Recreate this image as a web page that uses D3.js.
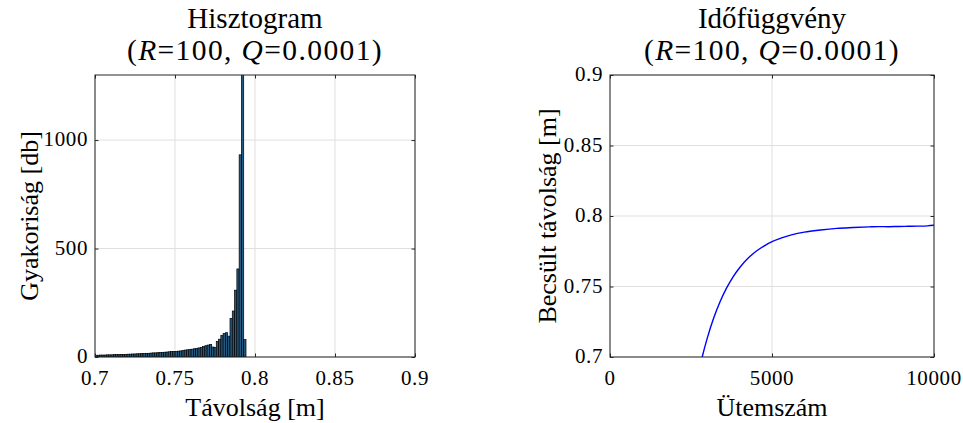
<!DOCTYPE html>
<html>
<head>
<meta charset="utf-8">
<script src="https://cdn.jsdelivr.net/npm/d3@7/dist/d3.min.js"></script>
<style>
  html, body { margin: 0; padding: 0; background: #fff; }
  svg { display: block; }
  text { font-family: "Liberation Serif", "Times New Roman", serif; fill: #000; }
</style>
</head>
<body>
<svg id="chart" width="963" height="423"></svg>
<script>
// ---- Histogram data: distance estimates (m) and counts per bin ----
const histBinStart = 0.7;
const histBinWidth = 0.00143;
const histCounts = [
  8, 8, 9, 9, 9, 10, 10, 10, 11, 11,
  11, 12, 12, 12, 13, 13, 14, 14, 15, 15,
  16, 16, 17, 17, 18, 19, 19, 20, 21, 21,
  22, 23, 24, 25, 25, 26, 27, 28, 30, 32,
  33, 35, 36, 38, 40, 42, 44, 48, 52, 55,
  57, 46, 44, 72, 82, 100, 108, 112, 96, 178,
  212, 308, 406, 932, 2400, 80
];
const histXTicks = [0.7, 0.75, 0.8, 0.85, 0.9];
const histYTicks = [0, 500, 1000];

// ---- Time series: estimated distance vs. step index ----
const seriesSteps = [
  2600, 2861, 3000, 3200, 3400, 3600, 3800, 4000, 4250, 4500,
  4750, 5000, 5300, 5600, 6000, 6500, 7000, 7500, 8000, 8300,
  8600, 8900, 9200, 9500, 9800, 10000
];
const seriesValues = [
  0.6742, 0.7014, 0.7132, 0.7276, 0.7394, 0.7490, 0.7569, 0.7633, 0.7698, 0.7748,
  0.7787, 0.7818, 0.7845, 0.7866, 0.7886, 0.7901, 0.7912, 0.7918, 0.7923, 0.7925,
  0.7924, 0.7926, 0.7927, 0.7928, 0.7930, 0.7934
];
const seriesXTicks = [0, 5000, 10000];
const seriesYTicks = [0.7, 0.75, 0.8, 0.85, 0.9];

const svg = d3.select("#chart");
const axisColor = "#262626";
const gridColor = "#dfdfdf";
const tickLen = 3.5;

function grid(g, x, y, xTicks, yTicks) {
  const [x0, x1] = x.range();
  const [y0, y1] = y.range();
  g.append("g").selectAll("line").data(xTicks).join("line")
    .attr("x1", d => x(d)).attr("x2", d => x(d))
    .attr("y1", y0).attr("y2", y1)
    .attr("stroke", gridColor).attr("stroke-width", 1);
  g.append("g").selectAll("line").data(yTicks).join("line")
    .attr("x1", x0).attr("x2", x1)
    .attr("y1", d => y(d)).attr("y2", d => y(d))
    .attr("stroke", gridColor).attr("stroke-width", 1);
}

function box(g, x, y, xTicks, yTicks, xFmt, yFmt) {
  const [x0, x1] = x.range();
  const [y0, y1] = y.range();
  const ax = g.append("g");
  // inward ticks on all four sides
  ax.append("g").attr("transform", `translate(0,${y0})`)
    .call(d3.axisTop(x).tickValues(xTicks).tickSize(tickLen).tickFormat(""))
    .call(s => s.select(".domain").remove());
  ax.append("g").attr("transform", `translate(0,${y1})`)
    .call(d3.axisBottom(x).tickValues(xTicks).tickSize(tickLen).tickFormat(""))
    .call(s => s.select(".domain").remove());
  ax.append("g").attr("transform", `translate(${x0},0)`)
    .call(d3.axisRight(y).tickValues(yTicks).tickSize(tickLen).tickFormat(""))
    .call(s => s.select(".domain").remove());
  ax.append("g").attr("transform", `translate(${x1},0)`)
    .call(d3.axisLeft(y).tickValues(yTicks).tickSize(tickLen).tickFormat(""))
    .call(s => s.select(".domain").remove());
  ax.selectAll(".tick line").attr("stroke", axisColor).attr("stroke-width", 1);
  ax.append("rect")
    .attr("x", x0).attr("y", y1).attr("width", x1 - x0).attr("height", y0 - y1)
    .attr("fill", "none").attr("stroke", axisColor).attr("stroke-width", 1);
  // tick labels
  g.append("g").selectAll("text").data(xTicks).join("text")
    .attr("x", d => x(d)).attr("y", y0 + 28)
    .attr("text-anchor", "middle").style("font-size", "21px")
    .style("letter-spacing", "0.6px")
    .text(xFmt);
  g.append("g").selectAll("text").data(yTicks).join("text")
    .attr("x", x0 - 7).attr("y", d => y(d) + 6)
    .attr("text-anchor", "end").style("font-size", "21px")
    .style("letter-spacing", "0.6px")
    .text(yFmt);
}

function title(g, cx, line1) {
  g.append("text").attr("x", cx).attr("y", 28)
    .attr("text-anchor", "middle").style("font-size", "29px").text(line1);
  const t = g.append("text").attr("x", cx).attr("y", 60)
    .attr("text-anchor", "middle").style("font-size", "29.5px")
    .style("letter-spacing", "1.4px");
  t.append("tspan").text("(");
  t.append("tspan").style("font-style", "italic").text("R");
  t.append("tspan").text("=100, ");
  t.append("tspan").style("font-style", "italic").text("Q");
  t.append("tspan").text("=0.0001)");
}

// ================= Left: histogram =================
{
  const g = svg.append("g");
  const x = d3.scaleLinear().domain([0.7, 0.9]).range([95, 415]);
  const y = d3.scaleLinear().domain([0, 1300]).range([357, 75]);
  grid(g, x, y, histXTicks, histYTicks);

  g.append("clipPath").attr("id", "clipHist")
    .append("rect").attr("x", 95).attr("y", 75).attr("width", 320).attr("height", 282);

  const bins = histCounts.map((c, i) => ({
    x0: histBinStart + i * histBinWidth,
    x1: histBinStart + (i + 1) * histBinWidth,
    count: c
  }));
  g.append("g").attr("clip-path", "url(#clipHist)")
    .selectAll("rect").data(bins).join("rect")
    .attr("x", d => x(d.x0))
    .attr("width", d => x(d.x1) - x(d.x0))
    .attr("y", d => y(d.count))
    .attr("height", d => y(0) - y(d.count))
    .attr("fill", "#245a80")
    .attr("stroke", "#000").attr("stroke-width", 0.7);

  box(g, x, y, histXTicks, histYTicks, d => String(d), d => String(d));
  title(g, 255, "Hisztogram");

  g.append("text").attr("x", 255).attr("y", 416)
    .attr("text-anchor", "middle").style("font-size", "26px").text("Távolság [m]");
  g.append("text").attr("transform", "translate(38,216) rotate(-90)")
    .attr("text-anchor", "middle").style("font-size", "26px").text("Gyakoriság [db]");
}

// ================= Right: time series =================
{
  const g = svg.append("g");
  const x = d3.scaleLinear().domain([0, 10000]).range([610, 934]);
  const y = d3.scaleLinear().domain([0.7, 0.9]).range([357, 75]);
  grid(g, x, y, seriesXTicks, seriesYTicks);

  g.append("clipPath").attr("id", "clipSeries")
    .append("rect").attr("x", 610).attr("y", 75).attr("width", 324).attr("height", 282);

  const pts = seriesSteps.map((t, i) => [t, seriesValues[i]]);
  const line = d3.line().x(d => x(d[0])).y(d => y(d[1])).curve(d3.curveMonotoneX);
  g.append("path").attr("clip-path", "url(#clipSeries)")
    .datum(pts).attr("d", line)
    .attr("fill", "none").attr("stroke", "#0000FF").attr("stroke-width", 1.4);

  box(g, x, y, seriesXTicks, seriesYTicks, d => String(d), d => String(d));
  title(g, 772, "Időfüggvény");

  g.append("text").attr("x", 772).attr("y", 416)
    .attr("text-anchor", "middle").style("font-size", "26px").text("Ütemszám");
  g.append("text").attr("transform", "translate(556,216) rotate(-90)")
    .attr("text-anchor", "middle").style("font-size", "26px").text("Becsült távolság [m]");
}
</script>
</body>
</html>
